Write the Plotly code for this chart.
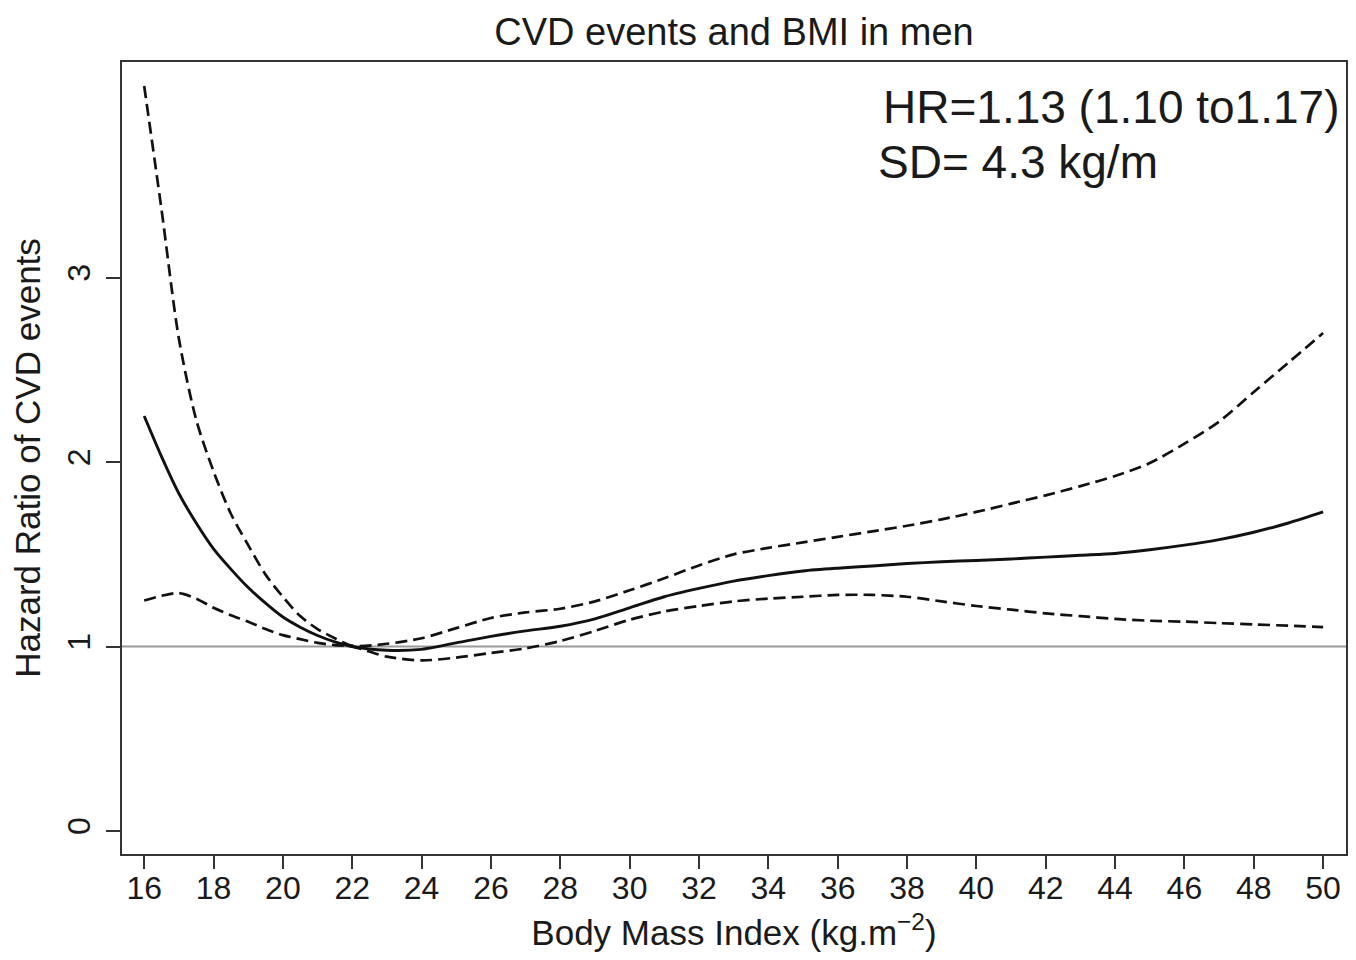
import plotly.graph_objects as go

# ---- data ----
bmi = [16, 16.5, 17, 17.5, 18, 18.5, 19, 19.5, 20, 20.5, 21, 21.5, 22,
       23, 24, 25, 26, 27, 28, 29, 30, 31, 32, 33, 34, 35, 36, 37, 38, 39,
       40, 41, 42, 43, 44, 45, 46, 47, 48, 49, 50]

hr = [2.25, 2.03, 1.83, 1.67, 1.53, 1.42, 1.32, 1.235, 1.16, 1.105, 1.06, 1.025, 1.00,
      0.98, 0.985, 1.02, 1.055, 1.085, 1.11, 1.15, 1.21, 1.27, 1.315, 1.355, 1.385,
      1.41, 1.425, 1.437, 1.45, 1.46, 1.467, 1.475, 1.485, 1.495, 1.505, 1.525,
      1.55, 1.58, 1.62, 1.67, 1.73]

hr_upper = [4.04, 3.37, 2.67, 2.23, 1.95, 1.72, 1.55, 1.39, 1.27, 1.165, 1.095, 1.045, 1.005,
            1.015, 1.045, 1.10, 1.155, 1.185, 1.205, 1.245, 1.305, 1.37, 1.44, 1.50, 1.535,
            1.565, 1.595, 1.625, 1.655, 1.69, 1.73, 1.775, 1.82, 1.87, 1.925, 1.995,
            2.10, 2.22, 2.38, 2.54, 2.70]

hr_lower = [1.25, 1.275, 1.29, 1.26, 1.21, 1.17, 1.135, 1.095, 1.062, 1.04, 1.02, 1.008, 1.00,
            0.945, 0.925, 0.94, 0.965, 0.99, 1.03, 1.085, 1.145, 1.19, 1.22, 1.245, 1.26,
            1.27, 1.28, 1.28, 1.27, 1.245, 1.22, 1.20, 1.18, 1.165, 1.15, 1.14,
            1.135, 1.127, 1.12, 1.113, 1.105]

x_ticks = list(range(16, 51, 2))
y_ticks = [0, 1, 2, 3]
REF_HR = 1

title_text = "CVD events and BMI in men"
x_title = "Body Mass Index (kg.m<sup>−2</sup>)"
y_title = "Hazard Ratio of CVD events"
hr_label = "HR=1.13 (1.10 to1.17)"
sd_label = "SD= 4.3 kg/m"

FONT = "Liberation Sans, Arial, Helvetica, sans-serif"
INK = "#1a1a1a"

# the page body has an 8px margin, so the figure is sized to fit the window
W, H = 1340, 944

fig = go.Figure()

dash_style = dict(color="#111111", width=2.7, dash="12px,6px", shape="spline", smoothing=0.8)

fig.add_trace(go.Scatter(x=bmi, y=hr_upper, mode="lines", line=dash_style,
                         showlegend=False, hoverinfo="skip"))
fig.add_trace(go.Scatter(x=bmi, y=hr_lower, mode="lines", line=dash_style,
                         showlegend=False, hoverinfo="skip"))
fig.add_trace(go.Scatter(x=bmi, y=hr, mode="lines",
                         line=dict(color="#111111", width=2.9, shape="spline", smoothing=0.8),
                         showlegend=False, hoverinfo="skip"))

fig.add_shape(type="line", xref="paper", x0=0, x1=1, yref="y", y0=REF_HR, y1=REF_HR,
              line=dict(color="#9a9a9a", width=2), layer="below")

fig.update_layout(
    width=W, height=H,
    paper_bgcolor="white", plot_bgcolor="white",
    margin=dict(l=114, r=2, t=54, b=98),
    font=dict(family=FONT, color=INK),
    title=dict(text=title_text, x=0.5, xref="paper", y=1 - 24 / H, yref="container",
               yanchor="middle", xanchor="center", font=dict(size=38, family=FONT, color=INK)),
    xaxis=dict(range=[15.36, 50.66], tickmode="array", tickvals=x_ticks,
               ticks="outside", ticklen=13, tickwidth=2, tickcolor="#333333",
               ticklabelstandoff=-8,
               showline=True, linecolor="#333333", linewidth=2, mirror=True,
               showgrid=False, zeroline=False,
               tickfont=dict(size=32, family=FONT, color=INK),
               title=dict(text=x_title, font=dict(size=35, family=FONT, color=INK), standoff=21),
               automargin=False),
    yaxis=dict(range=[-0.125, 4.17], tickmode="array", tickvals=y_ticks,
               ticks="outside", ticklen=14, tickwidth=2, tickcolor="#333333",
               tickangle=-90, ticklabelstandoff=3,
               showline=True, linecolor="#333333", linewidth=2, mirror=True,
               showgrid=False, zeroline=False,
               tickfont=dict(size=32, family=FONT, color=INK),
               title=dict(text=y_title, font=dict(size=35, family=FONT, color=INK), standoff=19),
               automargin=False),
    annotations=[
        dict(text=hr_label, xref="paper", yref="paper", x=0.620, y=0.943,
             xanchor="left", yanchor="middle", showarrow=False,
             font=dict(size=46, family=FONT, color=INK)),
        dict(text=sd_label, xref="paper", yref="paper", x=0.616, y=0.874,
             xanchor="left", yanchor="middle", showarrow=False,
             font=dict(size=46, family=FONT, color=INK)),
    ],
)

fig.write_html("out.html")
